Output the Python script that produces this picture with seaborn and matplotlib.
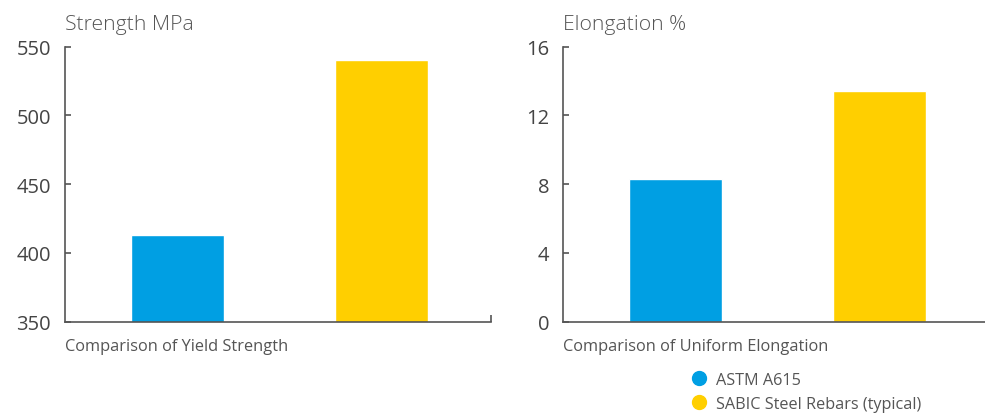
import pandas as pd
import seaborn as sns
import matplotlib.pyplot as plt
from matplotlib.lines import Line2D

# data
groups = ["ASTM A615", "SABIC Steel Rebars (typical)"]
yield_strength = [413, 540]
elongation = [8.3, 13.4]
strength_ticks = [350, 400, 450, 500, 550]
elong_ticks = [0, 4, 8, 12, 16]

colors = ["#009FE3", "#FFCF00"]
grey = "#555555"

sns.set_theme(style="white")
plt.rcParams['font.family'] = ['Open Sans', 'DejaVu Sans']

fig = plt.figure(figsize=(9.85, 4.14), dpi=100)
ax1 = fig.add_axes([0.066, 0.2205, 0.4325, 0.6643])
ax2 = fig.add_axes([0.5716, 0.2205, 0.4284, 0.6643])

panels = [
    (ax1, yield_strength, strength_ticks, "Strength MPa", "Comparison of Yield Strength", 1.537, True),
    (ax2, elongation, elong_ticks, "Elongation %", "Comparison of Uniform Elongation", 1.517, False),
]

for ax, vals, ticks, title, caption, xmax, end_tick in panels:
    df = pd.DataFrame({"group": groups, "value": vals})
    sns.barplot(data=df, x="group", y="value", hue="group", palette=colors,
                width=0.456, legend=False, ax=ax, saturation=1)
    ax.set_xlim(-0.551, xmax)
    ax.set_ylim(ticks[0], ticks[-1])
    ax.set_yticks(ticks)
    ax.set_xlabel("")
    ax.set_ylabel("")
    for s in ["top", "right"]:
        ax.spines[s].set_visible(False)
    for s in ["left", "bottom"]:
        ax.spines[s].set_color(grey)
        ax.spines[s].set_linewidth(1.2)
    ax.tick_params(axis="y", direction="in", length=4, width=1.2, color=grey,
                   labelcolor="#444444", labelsize=14.5, pad=10, left=True)
    # end tick on the x axis only (left panel)
    if end_tick:
        ax.set_xticks([xmax])
        ax.set_xticklabels([""])
        ax.tick_params(axis="x", direction="in", length=5, width=1.2, color=grey, bottom=True)
    else:
        ax.set_xticks([])
    ax.spines["bottom"].set_clip_on(False)
    ax.text(0, 1.064, title, transform=ax.transAxes, fontsize=15.2, color=grey,
            ha="left", va="baseline", fontweight="light")
    ax.text(0, -0.088, caption, transform=ax.transAxes, fontsize=11.8, color=grey,
            ha="left", va="center")

handles = [Line2D([], [], marker="o", linestyle="", markersize=10,
                  markerfacecolor=c, markeredgecolor=c) for c in colors]
leg = fig.legend(handles, groups, loc="upper left", bbox_to_anchor=(0.691, 0.119),
                 frameon=False, fontsize=11.7, labelspacing=0.5, handletextpad=0.45,
                 borderpad=0, handlelength=1.2)
for t in leg.get_texts():
    t.set_color(grey)

plt.savefig("out.png", dpi=100)
